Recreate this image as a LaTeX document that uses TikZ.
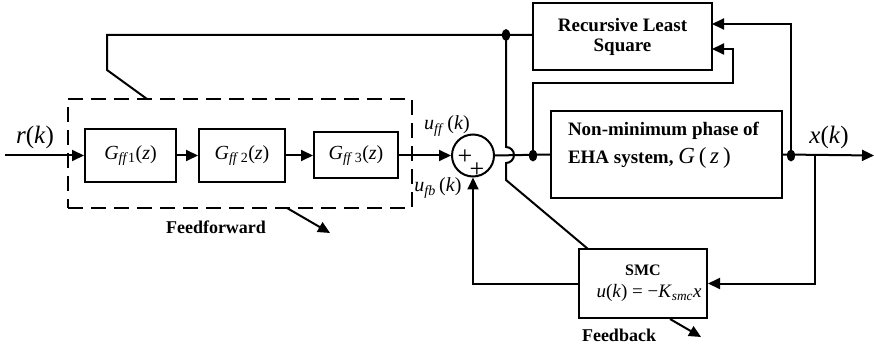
\documentclass[tikz,border=0pt]{standalone}
\usepackage{fontspec}
\setmainfont{Liberation Serif}
\usetikzlibrary{arrows.meta,shapes.geometric}
\begin{document}
\begin{tikzpicture}[x=1pt,y=-1pt,line width=2pt,
  blk/.style={draw,rectangle,inner sep=0pt,line width=2pt},
  arr/.style={-{Triangle[length=12pt,width=11pt]}},
  dotn/.style={fill,ellipse,inner sep=0pt,minimum width=8pt,minimum height=12pt},
  lbl/.style={inner sep=0pt},
  bf/.style={font=\fontsize{19}{22}\selectfont\bfseries},
  mth/.style={font=\fontsize{20}{23}\selectfont}]
\useasboundingbox (0,0) rectangle (874,347);
% blocks
\node[blk,dash pattern=on 15pt off 8pt,minimum width=344pt,minimum height=109pt] (ffbox) at (240,153.5) {};
\node[blk,minimum width=91pt,minimum height=53pt,mth] (g1) at (130.5,155.5) {\textit{G}\textsubscript{\textit{ff}1}(\textit{z})};
\node[blk,minimum width=86pt,minimum height=53pt,mth] (g2) at (242,155.5) {\textit{G}\textsubscript{\textit{ff}\,2}(\textit{z})};
\node[blk,minimum width=84pt,minimum height=46pt,mth] (g3) at (356,155.5) {\textit{G}\textsubscript{\textit{ff}\,3}(\textit{z})};
\node[draw,circle,minimum size=42pt,inner sep=0pt] (sum) at (473,155.5) {};
\node[blk,minimum width=179pt,minimum height=67pt,bf,align=center] (rls) at (622.5,36.5) {Recursive Least\\[-2pt]Square};
\node[blk,minimum width=231pt,minimum height=87pt] (plant) at (666.5,154.5) {};
\node[lbl,bf,anchor=west] (pt1) at (567,131) {Non-minimum phase of};
\node[lbl,bf,anchor=west] (pt2) at (567,158) {EHA system, {\mdseries\fontsize{23}{26}\selectfont\textit{G}\,(\,\textit{z}\,)}};
\node[blk,minimum width=128pt,minimum height=69pt] (smc) at (643,283.5) {};
\node[lbl,font=\fontsize{16}{19}\selectfont\bfseries] (smct) at (643,270) {SMC};
\node[lbl,font=\fontsize{19}{22}\selectfont] (smce) at (649,293) {\textit{u}(\textit{k}) = −\textit{K}\textsubscript{\textit{smc}}\textit{x}};
% junction dots
\node[dotn] (j1) at (506,35) {};
\node[dotn] (j2) at (533,155.5) {};
\node[dotn] (j3) at (791,155.5) {};
\coordinate (j4) at (815,155.5);
\coordinate (rin) at (5,155.5);
\coordinate (xout) at (874,155.5);
\coordinate (ftop) at (147,99);
\coordinate (bend) at (107,70);
\coordinate (smcin) at (588,249);
% connectors
\draw[arr] (rin) -- (g1.west);
\draw[arr] (g1.east) -- (g2.west);
\draw[arr] (g2.east) -- (g3.west);
\draw[arr] (g3.east) -- (sum.west);
\draw (sum.east) -- (plant.west);
\draw[arr] (plant.east) -- (xout);
\draw (ftop) -- (bend) |- (j1.center) -- (j1 -| rls.west);
\draw (j1.center) -- (506,147) arc[start angle=90,end angle=-90,radius=8pt] -- (506,180) -- (smcin);
\draw[arr] (j2.center) -- (533,83) -- (733,83) -- (733,49) -- (712,49);
\draw[arr] (j3.center) -- (791,24) -- (712,24);
\draw[arr] (j4) |- (smc.east);
\draw[arr] (smc.west) -| (sum.south);
% labels
\node[lbl,font=\fontsize{25}{28}\selectfont] (rk) at (35,137) {\textit{r}(\textit{k})};
\node[lbl,font=\fontsize{25}{28}\selectfont] (xk) at (829,137) {\textit{x}(\textit{k})};
\node[lbl,mth] (uff) at (447,126) {\textit{u}\textsubscript{\textit{ff}}\,(\textit{k})};
\node[lbl,mth] (ufb) at (438,188) {\textit{u}\textsubscript{\textit{fb}}\,(\textit{k})};
\node[lbl,font=\fontsize{26}{28}\selectfont] (p1) at (465,157) {+};
\node[lbl,font=\fontsize{26}{28}\selectfont] (p2) at (477,170) {+};
\node[lbl,font=\fontsize{18}{21}\selectfont\bfseries] (ffl) at (216,227) {Feedforward};
\node[lbl,font=\fontsize{18}{21}\selectfont\bfseries] (fbl) at (619,335) {Feedback};
\coordinate (fa1) at (287,208);
\coordinate (fa2) at (330,233);
\coordinate (fb1) at (670,319);
\coordinate (fb2) at (701,337);
\draw[arr] (fa1) -- (fa2);
\draw[arr] (fb1) -- (fb2);
\end{tikzpicture}
\end{document}
